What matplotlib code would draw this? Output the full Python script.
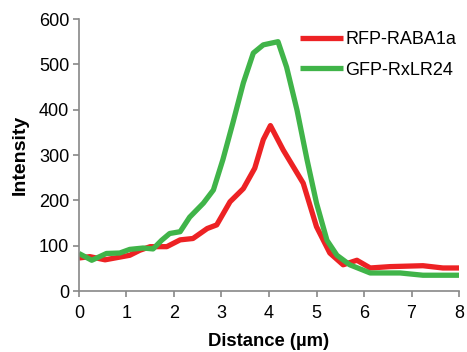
import matplotlib.pyplot as plt

plt.rcParams['font.family'] = ['Liberation Sans', 'DejaVu Sans']

# 距离 (µm) 与强度
dist_red = [0, 0.23, 0.55, 0.86, 1.07, 1.28, 1.5, 1.85, 2.13, 2.4, 2.7, 2.9, 3.18, 3.46,
            3.7, 3.88, 4.03, 4.3, 4.72, 5.0, 5.28, 5.56, 5.85, 6.13, 6.55, 7.24, 7.66, 8.0]
rfp_raba1a = [73, 76, 69, 75, 79, 90, 98, 98, 113, 116, 138, 146, 197, 226,
              271, 334, 365, 311, 238, 142, 84, 58, 68, 51, 54, 56, 51, 51]

dist_green = [0, 0.27, 0.58, 0.86, 1.07, 1.35, 1.56, 1.74, 1.91, 2.13, 2.33, 2.62, 2.83,
              3.03, 3.24, 3.46, 3.67, 3.88, 4.19, 4.37, 4.59, 4.8, 5.0, 5.22, 5.43,
              5.7, 6.13, 6.76, 7.24, 8.0]
gfp_rxlr24 = [83, 68, 83, 84, 92, 95, 93, 112, 127, 131, 163, 194, 223,
              290, 371, 459, 525, 543, 550, 494, 399, 290, 194, 112, 79,
              58, 40, 40, 35, 35]

fig = plt.figure(figsize=(4.67, 3.52), dpi=100)
ax = fig.add_axes([0.169, 0.173, 0.814, 0.773])

ax.plot(dist_red, rfp_raba1a, color='#ED2224', lw=3.8, label='RFP-RABA1a',
        solid_joinstyle='round', solid_capstyle='butt')
ax.plot(dist_green, gfp_rxlr24, color='#40B449', lw=3.8, label='GFP-RxLR24',
        solid_joinstyle='round', solid_capstyle='butt')

ax.set_xlim(0, 8)
ax.set_ylim(0, 600)
ax.set_xticks(range(0, 9))
ax.set_yticks(range(0, 601, 100))
for s in ['top', 'right']:
    ax.spines[s].set_visible(False)
for s in ['left', 'bottom']:
    ax.spines[s].set_color('#888888')
    ax.spines[s].set_linewidth(1.2)
ax.tick_params(direction='out', length=4, width=1.2, color='#888888', labelsize=13)
ax.tick_params(axis='x', pad=6)
ax.tick_params(axis='y', pad=3)

ax.set_xlabel('Distance (µm)', fontsize=13.3, fontweight='bold', labelpad=8)
ax.set_ylabel('Intensity', fontsize=14, fontweight='bold', labelpad=7)

ax.legend(loc='upper right', bbox_to_anchor=(1.035, 1.015), frameon=False, fontsize=13,
          handlelength=2.4, handletextpad=0.1, labelspacing=0.75)

plt.savefig('out.png', dpi=100)
